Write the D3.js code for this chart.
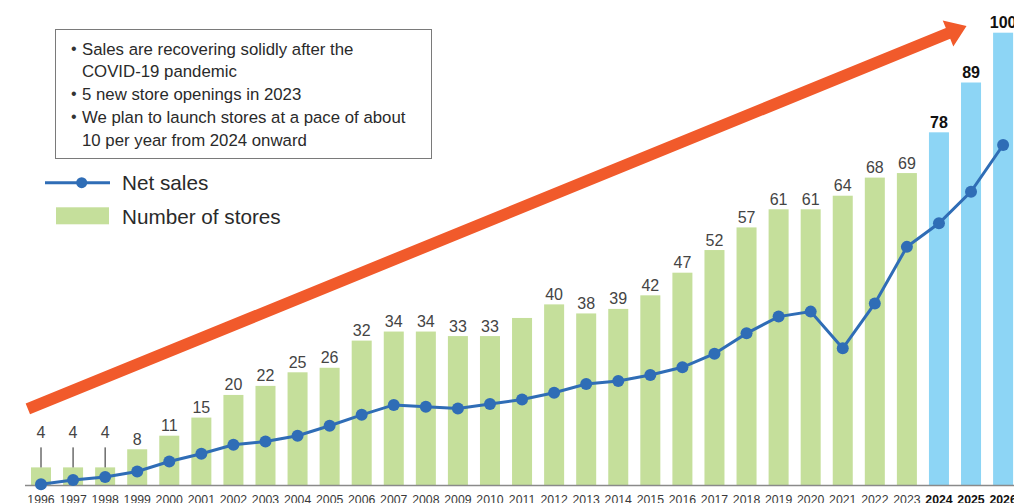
<!DOCTYPE html>
<html>
<head>
<meta charset="utf-8">
<script src="https://cdn.jsdelivr.net/npm/d3@7"></script>
<style>
html,body{margin:0;padding:0;background:#fff;overflow:hidden;}
svg{display:block;font-family:"Liberation Sans",Arial,Helvetica,sans-serif;}
</style>
</head>
<body>
<svg id="chart" width="1014" height="503"></svg>
<script>
// ---- data ----
const years = ["1996","1997","1998","1999","2000","2001","2002","2003","2004","2005","2006","2007","2008","2009","2010","2011","2012","2013","2014","2015","2016","2017","2018","2019","2020","2021","2022","2023","2024","2025","2026"];
const stores = [4,4,4,8,11,15,20,22,25,26,32,34,34,33,33,37,40,38,39,42,47,52,57,61,61,64,68,69,78,89,100];
const storeLabels = ["4","4","4","8","11","15","20","22","25","26","32","34","34","33","33","","40","38","39","42","47","52","57","61","61","64","68","69","78","89","100"];
const plannedYears = ["2024","2025","2026"];
const raisedLabelYears = ["1996","1997","1998"];
const netSales = [0.3,1.2,1.9,3.1,5.3,7.0,9.0,9.7,11.0,13.2,15.6,17.8,17.4,17.0,18.0,19.0,20.5,22.4,23.1,24.4,26.1,29.1,33.6,37.3,38.4,30.3,40.2,52.7,57.9,64.9,75.2];
const notes = [
  ["Sales are recovering solidly after the","COVID-19 pandemic"],
  ["5 new store openings in 2023"],
  ["We plan to launch stores at a pace of about","10 per year from 2024 onward"]
];
const legendItems = ["Net sales","Number of stores"];
// growth arrow in data units
const arrowFrom = {year:1995.59, value:16.9};
const arrowTo = {year:2024.86, value:101.5};

// ---- colours ----
const green = "#c5df9b", blue = "#8dd5f5", lineBlue = "#2f6db6", orange = "#f15a2b";

const svg = d3.select("#chart");
const step = 32.07;
const x = d3.scaleBand().domain(years)
  .range([41 - step/2, 41 - step/2 + step*years.length])
  .paddingInner(0.376).paddingOuter(0.188);
const bw = x.bandwidth();
const xc = d3.scaleLinear().domain([1996,2026]).range([x("1996")+bw/2, x("2026")+bw/2]);
const y = d3.scaleLinear().domain([0,100]).range([485.5, 32.7]);
const ySales = d3.scaleLinear().domain([0,100]).range([485.5, 32.7]);

const data = years.map((yr,i)=>({year:yr, stores:stores[i], label:storeLabels[i], sales:netSales[i], planned:plannedYears.includes(yr), raised:raisedLabelYears.includes(yr)}));

// bars
svg.append("g").selectAll("rect").data(data).join("rect")
  .attr("x", d=>x(d.year)).attr("width", bw)
  .attr("y", d=>y(d.stores)).attr("height", d=>y(0)-y(d.stores))
  .attr("fill", d=>d.planned ? blue : green);

// x axis
const xAxis = svg.append("g").attr("transform", `translate(0,${y(0)})`)
  .call(d3.axisBottom(x).tickSize(0).tickPadding(10));
xAxis.select(".domain").attr("d", "M25,0H1014").attr("stroke","#8a8a8a").attr("stroke-width",1.6);
xAxis.selectAll("text")
  .attr("font-size","12.3px")
  .attr("font-family","'Liberation Sans',Arial,sans-serif")
  .attr("font-weight", d=>plannedYears.includes(d) ? "bold" : "normal")
  .attr("fill", d=>plannedYears.includes(d) ? "#111" : "#3a3a3a");

// bar labels
const lab = svg.append("g").selectAll("g").data(data.filter(d=>d.label!=="")).join("g");
lab.append("text")
  .attr("x", d=>x(d.year)+bw/2)
  .attr("y", d=>y(d.stores) - (d.raised ? 29 : 4.5))
  .attr("text-anchor","middle")
  .attr("font-size","16px")
  .attr("font-weight", d=>d.planned ? "bold" : "normal")
  .attr("fill", d=>d.planned ? "#111" : "#444")
  .text(d=>d.label);
lab.filter(d=>d.raised).append("line")
  .attr("x1", d=>x(d.year)+bw/2).attr("x2", d=>x(d.year)+bw/2)
  .attr("y1", d=>y(d.stores)-20).attr("y2", d=>y(d.stores))
  .attr("stroke","#222").attr("stroke-width",1);

// net sales line
svg.append("path").datum(data)
  .attr("d", d3.line().x(d=>x(d.year)+bw/2).y(d=>ySales(d.sales)))
  .attr("fill","none").attr("stroke",lineBlue).attr("stroke-width",3);
svg.append("g").selectAll("circle").data(data).join("circle")
  .attr("cx", d=>x(d.year)+bw/2).attr("cy", d=>ySales(d.sales)).attr("r",6)
  .attr("fill",lineBlue);

// growth arrow
(function(){
  const x0 = xc(arrowFrom.year), y0 = y(arrowFrom.value);
  const x1 = xc(arrowTo.year), y1 = y(arrowTo.value);
  const len = Math.hypot(x1-x0, y1-y0);
  const ux = (x1-x0)/len, uy = (y1-y0)/len;
  const nx = -uy, ny = ux;
  const headLen = 20, headHalf = 14, half = 5.8;
  const bx = x1 - ux*headLen, by = y1 - uy*headLen;
  const pts = [
    [x0+nx*half, y0+ny*half],
    [bx+nx*half, by+ny*half],
    [bx+nx*headHalf, by+ny*headHalf],
    [x1, y1],
    [bx-nx*headHalf, by-ny*headHalf],
    [bx-nx*half, by-ny*half],
    [x0-nx*half, y0-ny*half]
  ];
  svg.append("path").attr("d", "M"+pts.map(p=>p.join(",")).join("L")+"Z").attr("fill",orange);
})();

// notes box
const box = svg.append("g");
box.append("rect").attr("x",55.5).attr("y",29.5).attr("width",376).attr("height",129)
  .attr("fill","#fff").attr("stroke","#7a7a7a").attr("stroke-width",1);
let ly = 54.5;
notes.forEach(lines=>{
  box.append("text").attr("x",71).attr("y",ly-1).attr("font-size","16px").attr("fill","#333").text("•");
  lines.forEach(t=>{
    box.append("text").attr("x",82).attr("y",ly).attr("font-size","16.8px").attr("fill","#2a2a2a").text(t);
    ly += 22.8;
  });
});

// legend
const lg = svg.append("g");
lg.append("line").attr("x1",45).attr("x2",110).attr("y1",182.7).attr("y2",182.7).attr("stroke",lineBlue).attr("stroke-width",3);
lg.append("circle").attr("cx",81.7).attr("cy",182.7).attr("r",5.5).attr("fill",lineBlue);
lg.append("rect").attr("x",56).attr("y",207.3).attr("width",53).attr("height",17).attr("fill",green);
lg.selectAll("text.lt").data(legendItems).join("text").attr("class","lt")
  .attr("x",122).attr("y",(d,i)=>i===0?189.8:224)
  .attr("font-size","20.7px").attr("fill","#2a2a2a").text(d=>d);
</script>
</body>
</html>
